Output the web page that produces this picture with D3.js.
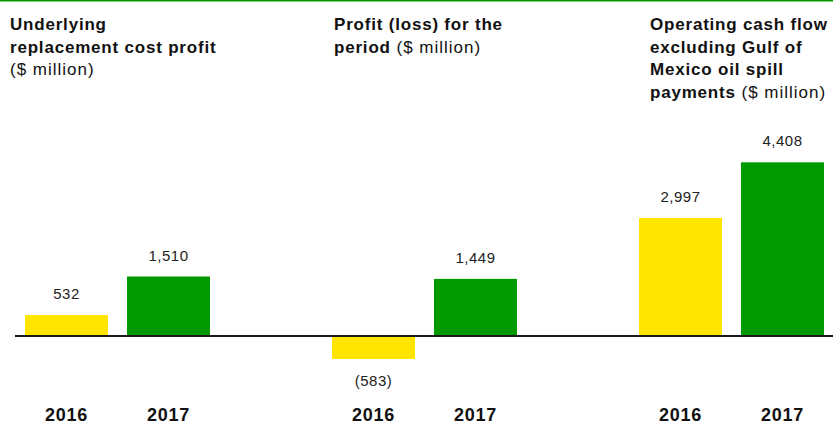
<!DOCTYPE html>
<html>
<head>
<meta charset="utf-8">
<script src="https://cdn.jsdelivr.net/npm/d3@7/dist/d3.min.js"></script>
<style>
  html, body { margin: 0; padding: 0; background: #fff; }
  svg { display: block; font-family: "Liberation Sans", Arial, Helvetica, sans-serif; }
</style>
</head>
<body>
<svg id="chart" width="833" height="425"></svg>
<script>
// ---- data ----
const panels = ["Underlying replacement cost profit", "Profit (loss) for the period", "Operating cash flow excluding Gulf of Mexico oil spill payments"];
const years = ["2016", "2017"];
const values2016 = [532, -583, 2997];
const values2017 = [1510, 1449, 4408];
const valueLabels2016 = ["532", "(583)", "2,997"];
const valueLabels2017 = ["1,510", "1,449", "4,408"];
const titleLines = [
  [{b: "Underlying"}, {b: "replacement cost profit"}, {r: "($ million)"}],
  [{b: "Profit (loss) for the"}, {b: "period", r: " ($ million)"}],
  [{b: "Operating cash flow"}, {b: "excluding Gulf of"}, {b: "Mexico oil spill"}, {b: "payments", r: " ($ million)"}]
];

// ---- layout ----
const W = 833, H = 425;
const colors = {"2016": "#FFE600", "2017": "#009900"};
const titleX = [10, 334, 650];
const svg = d3.select("#chart");

const outer = d3.scaleBand().domain(panels).range([25, 25 + 307 * 3]).paddingInner(0).paddingOuter(0);
const inner = d3.scaleBand().domain(years).range([0, 185]).paddingInner(19 / 102).paddingOuter(0);
const y = d3.scaleLinear().domain([0, 5000]).range([336, 336 - 197]);

// top green rule
svg.append("rect").attr("x", 0).attr("y", 0).attr("width", W).attr("height", 1.5).attr("fill", "#009900");

const rows = [];
panels.forEach((p, i) => {
  rows.push({panel: p, year: "2016", v: values2016[i], label: valueLabels2016[i]});
  rows.push({panel: p, year: "2017", v: values2017[i], label: valueLabels2017[i]});
});

// bars
svg.append("g").selectAll("rect").data(rows).join("rect")
  .attr("x", d => outer(d.panel) + inner(d.year))
  .attr("width", inner.bandwidth())
  .attr("y", d => y(Math.max(0, d.v)))
  .attr("height", d => Math.abs(y(d.v) - y(0)))
  .attr("fill", d => colors[d.year]);

// baseline
svg.append("line").attr("x1", 15).attr("x2", W).attr("y1", y(0)).attr("y2", y(0))
  .attr("stroke", "#1a1a1a").attr("stroke-width", 1.8);

// value labels
svg.append("g").selectAll("text").data(rows).join("text")
  .attr("x", d => outer(d.panel) + inner(d.year) + inner.bandwidth() / 2)
  .attr("y", d => d.v >= 0 ? y(d.v) - 16 : y(d.v) + 27)
  .attr("text-anchor", "middle")
  .attr("font-size", 15)
  .attr("letter-spacing", 0.5)
  .attr("fill", "#222")
  .text(d => d.label);

// year labels
svg.append("g").selectAll("text").data(rows).join("text")
  .attr("x", d => outer(d.panel) + inner(d.year) + inner.bandwidth() / 2)
  .attr("y", 421)
  .attr("text-anchor", "middle")
  .attr("font-size", 18)
  .attr("font-weight", "bold")
  .attr("letter-spacing", 0.7)
  .attr("fill", "#111")
  .text(d => d.year);

// titles
titleLines.forEach((lines, i) => {
  const t = svg.append("text").attr("x", titleX[i]).attr("y", 30).attr("font-size", 17).attr("fill", "#111");
  lines.forEach((ln, j) => {
    let first = true;
    if (ln.b) {
      t.append("tspan").attr("x", titleX[i]).attr("dy", j === 0 ? 0 : 22.5)
        .attr("font-weight", "bold").attr("letter-spacing", 0.8).text(ln.b);
      first = false;
    }
    if (ln.r) {
      const s = t.append("tspan").attr("font-weight", "normal").attr("letter-spacing", 1).text(ln.r);
      if (first) s.attr("x", titleX[i]).attr("dy", j === 0 ? 0 : 22.5);
    }
  });
});
</script>
</body>
</html>
